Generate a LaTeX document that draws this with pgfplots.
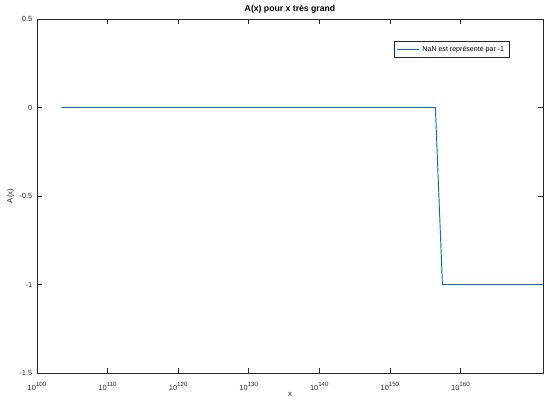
\documentclass[border=0pt]{standalone}
\usepackage{fontspec}
\setmainfont{Liberation Sans}
\usepackage{pgfplots}
\pgfplotsset{compat=1.18}
\definecolor{mblue}{rgb}{0,0.447,0.741}
\definecolor{axgray}{rgb}{0.15,0.15,0.15}
\newcommand{\tp}[1]{10\raisebox{2.6pt}{\fontsize{4.6}{5}\selectfont #1}}
\begin{document}
\begin{tikzpicture}
\begin{axis}[
  scale only axis,
  width=379.5pt, height=265.5pt,
  at={(0,0)}, anchor=south west,
  xmode=log, log basis x=10,
  xmin=1e100, xmax=5e171,
  ymin=-1.5, ymax=0.5,
  xtick={1e100,1e110,1e120,1e130,1e140,1e150,1e160},
  xticklabels={\tp{100},\tp{110},\tp{120},\tp{130},\tp{140},\tp{150},\tp{160}},
  ytick={-1.5,-1,-0.5,0,0.5},
  yticklabels={-1.5,-1,-0.5,0,0.5},
  minor tick num=0,
  minor xtick={},
  tick align=inside,
  major tick length=3.5pt,
  axis line style={axgray, line width=0.4pt},
  every tick/.style={axgray, line width=0.4pt},
  tick label style={font=\fontsize{5.6}{6}\selectfont, text=axgray},
  xticklabel style={yshift=-3.5pt},
  title={\bfseries A(x) pour x très grand},
  title style={font=\fontsize{6.5}{7}\selectfont, yshift=-5.5pt},
  xlabel={x},
  ylabel={A(x)},
  label style={font=\fontsize{5.8}{6}\selectfont, text=axgray},
  xlabel style={at={(axis description cs:0.5,0)}, anchor=center, yshift=-16.2pt, inner sep=0pt},
  ylabel style={yshift=-3pt},
  legend style={at={(0.933,0.938)}, anchor=north east, font=\fontsize{5.3}{6}\selectfont, draw=axgray, line width=0.4pt, inner sep=1.5pt, row sep=0pt},
  legend image post style={draw=mblue, line width=0.7pt},
  legend cell align=left,
  clip=true,
]
\addplot[draw=mblue, line width=0.7pt] coordinates {
  (2.8e103,0) (2.8e110,0) (2.8e120,0) (2.8e130,0) (2.8e140,0) (2.8e150,0) (2.8e156,0)
  (2.8e157,-1) (2.8e160,-1) (2.8e165,-1) (2.8e170,-1) (2.8e172,-1)
};
\addlegendentry{NaN est représenté par -1}
\end{axis}
\pgfresetboundingbox
\path (-27.75pt,-19.5pt) rectangle (380.25pt,279.75pt);
\end{tikzpicture}
\end{document}
